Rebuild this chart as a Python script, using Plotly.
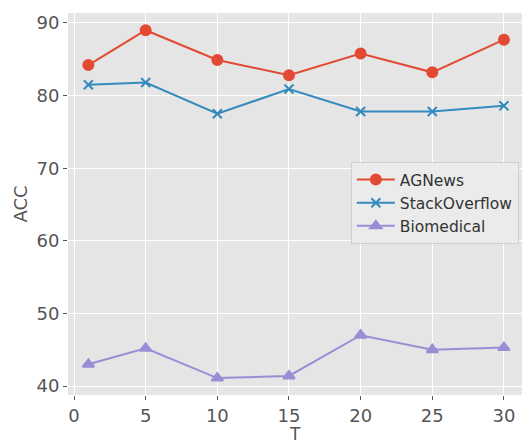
import plotly.graph_objects as go

T = [1, 5, 10, 15, 20, 25, 30]
agnews = [84.2, 89.0, 84.9, 82.8, 85.8, 83.2, 87.7]
stackoverflow = [81.5, 81.8, 77.5, 80.9, 77.8, 77.8, 78.6]
biomedical = [43.0, 45.2, 41.1, 41.4, 47.0, 45.0, 45.3]

series = [
    ("AGNews", agnews, "#E24A33", "circle", 10),
    ("StackOverflow", stackoverflow, "#348ABD", "x-thin-open", 9),
    ("Biomedical", biomedical, "#988ED5", "triangle-up", 10),
]

fig = go.Figure()
for name, vals, color, symbol, size in series:
    fig.add_trace(go.Scatter(
        x=T, y=vals, name=name, mode="lines+markers",
        line=dict(color=color, width=2),
        marker=dict(symbol=symbol, size=size, color=color,
                    line=dict(color=color, width=2)),
    ))

axis_common = dict(
    showgrid=True, gridcolor="white", gridwidth=1.2,
    zeroline=False, showline=False, automargin=False,
    ticks="outside", ticklen=4, tickwidth=1, tickcolor="#555555",
    tickfont=dict(family="DejaVu Sans", size=18, color="#555555"),
    title_font=dict(family="DejaVu Sans", size=18, color="#555555"),
)

fig.update_xaxes(axis_common, range=[-0.42, 31.26], tickvals=[0, 5, 10, 15, 20, 25, 30])
fig.update_yaxes(axis_common, range=[38.77, 91.37], tickvals=[40, 50, 60, 70, 80, 90],
                 title_text="ACC", title_standoff=4)

# x-axis title anchored to the bottom edge of the figure
fig.add_annotation(text="T", xref="paper", yref="paper", x=0.5, y=-0.1335,
                   xanchor="center", yanchor="bottom", showarrow=False,
                   font=dict(family="DejaVu Sans", size=17, color="#555555"))

fig.update_layout(
    width=522, height=446,
    margin=dict(l=68, r=0, t=13, b=51),
    paper_bgcolor="white", plot_bgcolor="#E5E5E5",
    showlegend=True,
    legend=dict(
        x=0.623, y=0.61, xanchor="left", yanchor="top",
        bgcolor="rgba(235,235,235,0.9)", bordercolor="#D0D0D0", borderwidth=1,
        font=dict(family="DejaVu Sans", size=15.5, color="#333333"),
        itemwidth=38, tracegroupgap=0,
    ),
)

fig.write_html("out.html")
